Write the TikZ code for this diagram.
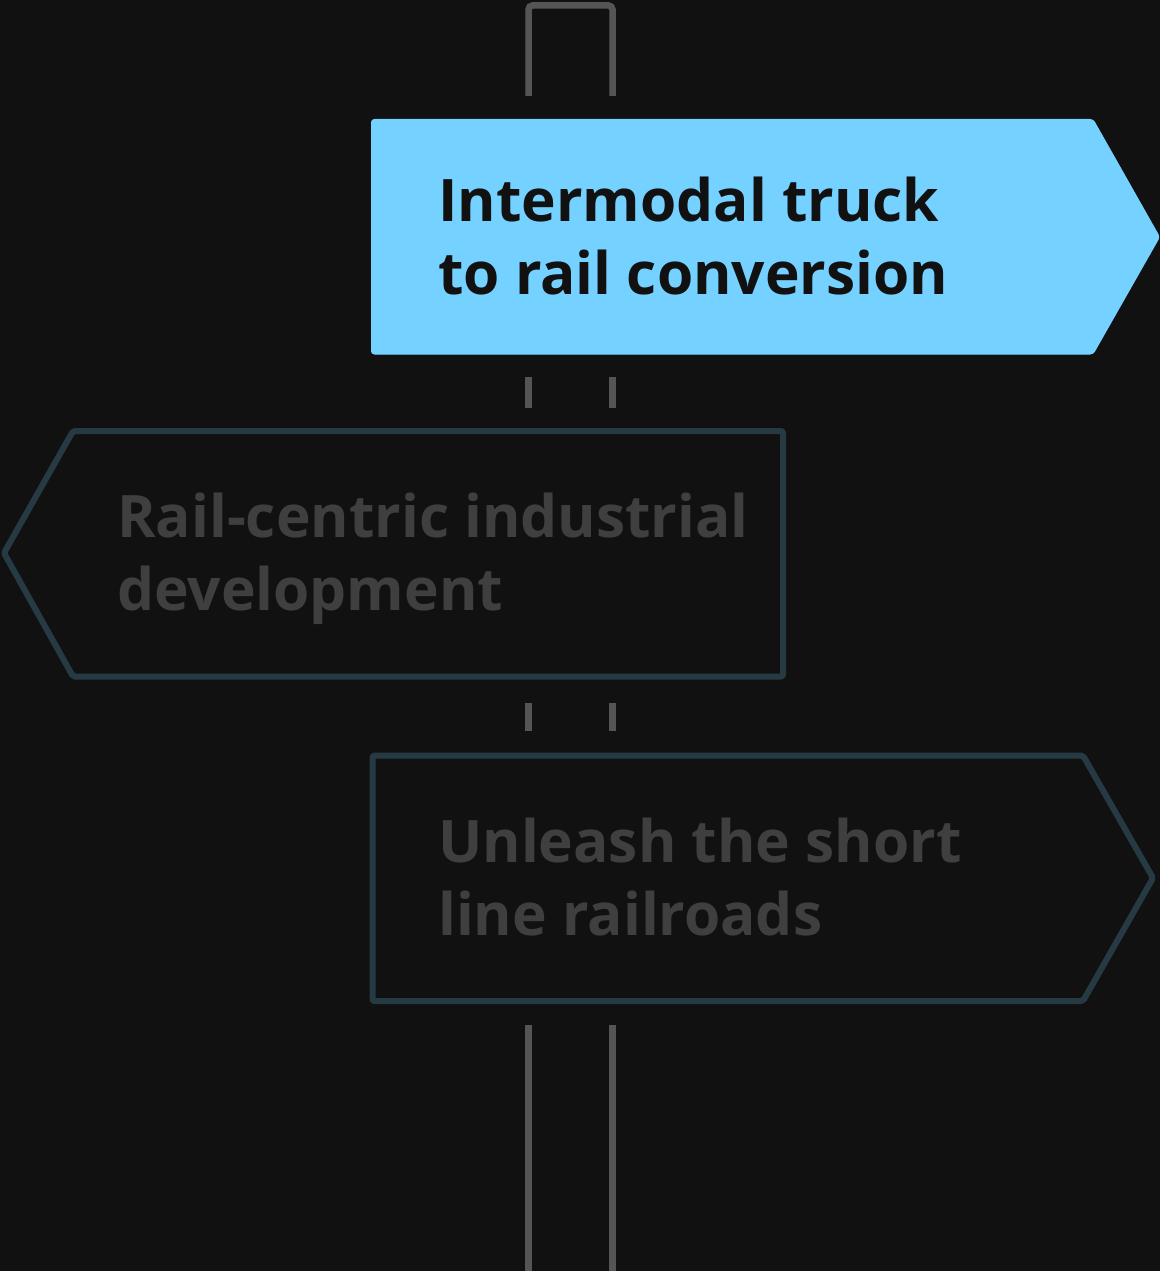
\documentclass[tikz,border=0pt]{standalone}
\usepackage{fontspec}
\setmainfont{Open Sans}
\definecolor{bg}{HTML}{111111}
\definecolor{post}{HTML}{555555}
\definecolor{active}{HTML}{75D1FF}
\definecolor{edge}{HTML}{263A44}
\definecolor{dimtext}{HTML}{3F3F3F}
\definecolor{darktext}{HTML}{111111}
\tikzset{
  postline/.style={draw=post, line width=6.5pt},
  signactive/.style={fill=active, draw=active, line width=1pt, rounded corners=3pt},
  signidle/.style={draw=edge, line width=6pt, rounded corners=2pt, line join=round},
  signtext/.style={anchor=base west, inner sep=0pt, align=left, font=\bfseries\fontsize{58.6}{73}\selectfont},
}
\begin{document}
\begin{tikzpicture}[x=1pt,y=-1pt]
\fill[bg] (0,0) rectangle (1160,1271);
\useasboundingbox (0,0) rectangle (1160,1271);
% post
\draw[postline, rounded corners=4pt] (528.5,96) -- (528.5,5.5) -- (612.5,5.5) -- (612.5,96);
\draw[postline] (528.5,377) -- (528.5,408) (612.5,377) -- (612.5,408);
\draw[postline] (528.5,703) -- (528.5,731) (612.5,703) -- (612.5,731);
\draw[postline] (528.5,1025) -- (528.5,1275) (612.5,1025) -- (612.5,1275);
% sign 1
\path[signactive] (371.5,119.5) -- (1093,119.5) -- (1159.5,237) -- (1093,354) -- (371.5,354) -- cycle;
\node[signtext, text=darktext] (t1) at (438,294) {Intermodal truck\\to rail conversion};
% sign 2
\path[signidle] (73,431) -- (783,431) -- (783,676.5) -- (73,676.5) -- (4,553) -- cycle;
\node[signtext, text=dimtext] (t2) at (117,610) {Rail-centric industrial\\development};
% sign 3
\path[signidle] (372.5,755.5) -- (1083,755.5) -- (1153,878) -- (1083,1001) -- (372.5,1001) -- cycle;
\node[signtext, text=dimtext] (t3) at (438,935) {Unleash the short\\line railroads};
\end{tikzpicture}
\end{document}
